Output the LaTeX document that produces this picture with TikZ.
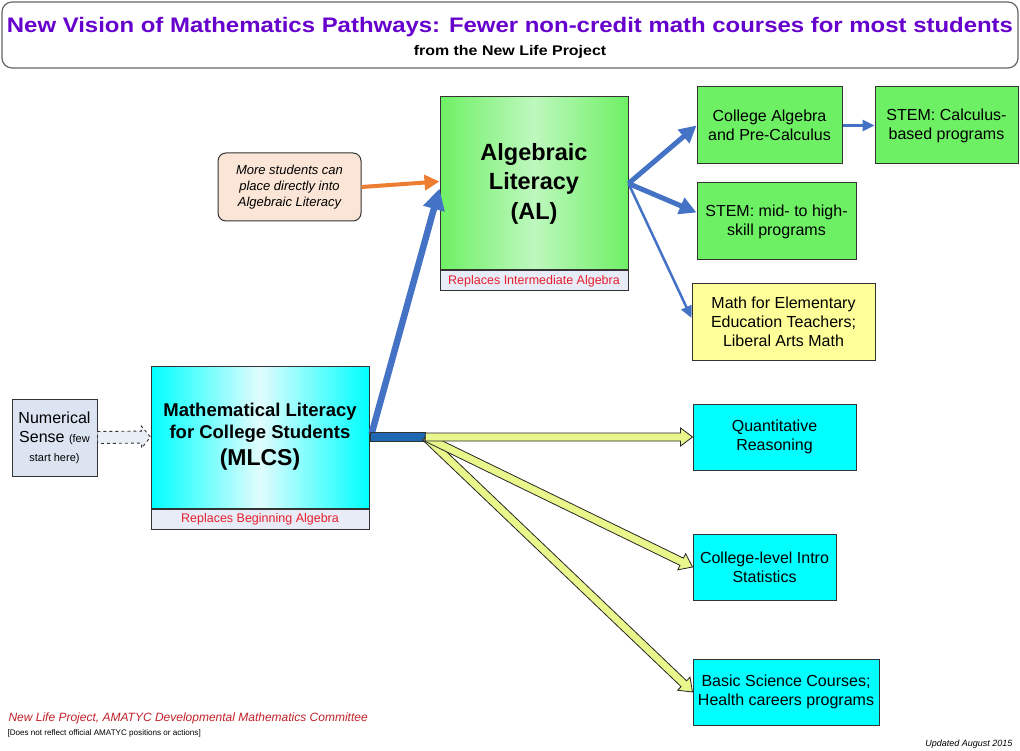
\documentclass[tikz,border=0pt]{standalone}
\usepackage{fontspec}
\setmainfont{Liberation Sans}
\usetikzlibrary{positioning,calc,arrows.meta}

\definecolor{titlepurple}{RGB}{102,0,204}
\definecolor{boxgreen}{RGB}{110,240,100}
\definecolor{lightgreen}{RGB}{190,248,190}
\definecolor{boxcyan}{RGB}{0,255,255}
\definecolor{lightcyan}{RGB}{225,252,252}
\definecolor{boxyellow}{RGB}{255,255,153}
\definecolor{peach}{RGB}{251,229,214}
\definecolor{labelfill}{RGB}{232,236,246}
\definecolor{labelred}{RGB}{230,30,45}
\definecolor{footred}{RGB}{192,32,40}
\definecolor{pathblue}{RGB}{68,114,196}
\definecolor{barblue}{RGB}{30,105,178}
\definecolor{arrowyellow}{RGB}{232,246,140}
\definecolor{nsfill}{RGB}{220,228,242}
\definecolor{callorange}{RGB}{237,125,49}

\newcommand{\fs}[2]{\fontsize{#1}{#2}\selectfont}
\newcommand{\wide}[1]{\scalebox{1.14}[1]{#1}}

% hollow block arrow: style, shaft half width, head half width, head length, from, to
\newcommand{\fatarrow}[6]{%
  \coordinate (fa-h) at ($(#6)!#4!(#5)$);
  \draw[#1] ($(#5)!#2!90:(#6)$) -- ($(fa-h)!#2!-90:(#5)$)
    -- ($(fa-h)!#3!-90:(#5)$) -- (#6) -- ($(fa-h)!#3!90:(#5)$)
    -- ($(fa-h)!#2!90:(#5)$) -- ($(#5)!#2!-90:(#6)$) -- cycle;
}

\tikzset{
  box/.style={draw=black!80, line width=1pt, align=center, inner sep=2pt, font=\fs{16}{19}},
  greenbox/.style={box, fill=boxgreen},
  cyanbox/.style={box, fill=boxcyan},
  labelbox/.style={draw=black!80, line width=1pt, fill=labelfill, text=labelred,
    font=\fs{12.5}{14}, minimum height=20pt, inner sep=0pt},
  blueline/.style={draw=pathblue},
  yellowarrow/.style={draw=black!85, line width=0.8pt, fill=arrowyellow},
}

\begin{document}
\begin{tikzpicture}[x=1pt,y=-1pt]
\useasboundingbox (0,0) rectangle (1020,751);

% heading
\node[draw=black!60, line width=1.2pt, rounded corners=10pt, minimum width=1016pt,
  minimum height=66pt] (frame) at (510,35) {};
\node[text=titlepurple, font=\bfseries\fs{21}{24}] (title) at (510,27)
  {\wide{New Vision of Mathematics Pathways: Fewer non-credit math courses for most students}};
\node[font=\bfseries\fs{14}{17}] (subtitle) at (510,52) {\wide{from the New Life Project}};

% the two main courses
\node[box, minimum width=188pt, minimum height=173pt, left color=boxgreen,
  right color=boxgreen, middle color=lightgreen, font=\bfseries\fs{23.5}{29.5}]
  (al) at (534,183.5) {Algebraic\\Literacy\\(AL)};
\node[labelbox, minimum width=188pt, below=0pt of al] (allab) {Replaces Intermediate Algebra};

\node[box, minimum width=218pt, minimum height=142pt, left color=boxcyan,
  right color=boxcyan, middle color=lightcyan, font=\bfseries\fs{18.5}{22}]
  (mlcs) at (260,437) {Mathematical Literacy\\for College Students\\[5pt]{\fs{23}{26}(MLCS)}};
\node[labelbox, minimum width=218pt, below=0pt of mlcs] (mlcslab) {Replaces Beginning Algebra};

\node[box, fill=nsfill, minimum width=85pt, minimum height=77pt] (ns) at (54.5,437.5)
  {Numerical\\Sense {\fs{11}{13}(few}\\{\fs{11}{13}start here)}};

\node[box, fill=peach, rounded corners=8pt, minimum width=143pt, minimum height=68pt,
  font=\itshape\fs{13}{16}] (callout) at (289.5,187)
  {More students can\\place directly into\\Algebraic Literacy};

% destinations
\node[greenbox, minimum width=145pt, minimum height=77pt] (ca) at (769.5,125.5)
  {College Algebra\\and Pre-Calculus};
\node[greenbox, minimum width=143pt, minimum height=77pt] (stemcalc) at (946.5,125.5)
  {STEM: Calculus-\\based programs};
\node[greenbox, minimum width=159pt, minimum height=77pt] (stemmid) at (776.5,221.5)
  {STEM: mid- to high-\\skill programs};
\node[box, fill=boxyellow, minimum width=183pt, minimum height=76pt] (mathel) at (783.5,322)
  {Math for Elementary\\Education Teachers;\\Liberal Arts Math};
\node[cyanbox, minimum width=163pt, minimum height=66pt] (qr) at (774.5,437)
  {Quantitative\\Reasoning};
\node[cyanbox, minimum width=143pt, minimum height=66pt] (stats) at (764.5,567)
  {College-level Intro\\Statistics};
\node[cyanbox, minimum width=186pt, minimum height=66pt] (bsc) at (786,692)
  {Basic Science Courses;\\Health careers programs};

% blue paths
\draw[blueline, line width=6.5pt, -{Triangle[length=21pt,width=21pt]}]
  ($(mlcs.east)+(2,-3)$) -- ($(al.west)+(0,5)$);
\draw[blueline, line width=5pt, -{Triangle[length=17pt,width=17pt]}] (al.east) -- (ca.west);
\draw[blueline, line width=5pt, -{Triangle[length=17pt,width=17pt]}]
  (al.east) -- ($(stemmid.west)+(0,-9)$);
\draw[blueline, line width=2.5pt, -{Triangle[length=12pt,width=11pt]}]
  (al.east) -- ($(mathel.west)+(0,-4)$);
\draw[blueline, line width=2.5pt, -{Triangle[length=12pt,width=11pt]}] (ca.east) -- (stemcalc.west);
\draw[draw=callorange, line width=4pt, -{Triangle[length=15pt,width=15pt]}]
  (callout.east) -- ($(al.west)+(0,-2)$);

% hollow arrows
\fatarrow{draw=black!80, dashed, line width=0.9pt, fill=nsfill!60}{6pt}{11pt}{9pt}{ns.east}{mlcs.west}
\node[draw=black!80, line width=0.8pt, fill=barblue, minimum width=55pt, minimum height=9pt,
  inner sep=0pt, anchor=west] (bar) at (mlcs.east) {};
\fatarrow{yellowarrow}{4pt}{9pt}{12pt}{bar.east}{bsc.west}
\fatarrow{yellowarrow}{4pt}{9pt}{12pt}{bar.east}{stats.west}
\fatarrow{yellowarrow}{4pt}{9pt}{12pt}{bar.east}{qr.west}

% footer
\node[anchor=west, text=footred, font=\itshape\fs{12}{14}] (credit) at (5,718)
  {New Life Project, AMATYC Developmental Mathematics Committee};
\node[anchor=west, font=\fs{8.1}{9}] (note) at (4,733)
  {[Does not reflect official AMATYC positions or actions]};
\node[anchor=east, font=\itshape\fs{9}{11}] (updated) at (1016,744) {Updated August 2015};
\end{tikzpicture}
\end{document}
